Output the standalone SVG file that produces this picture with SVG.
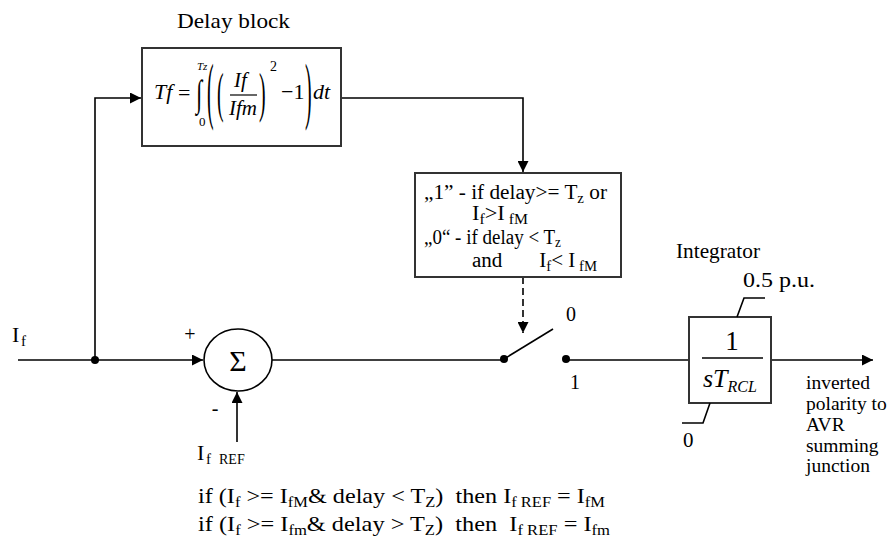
<svg xmlns="http://www.w3.org/2000/svg" width="890" height="537" viewBox="0 0 890 537">
<defs>
<marker id="ah" viewBox="0 0 10 10" refX="10" refY="5" markerWidth="11" markerHeight="11" markerUnits="userSpaceOnUse" orient="auto">
<path d="M0,0 L10,5 L0,10 Z" fill="#000"/>
</marker>
</defs>
<style>
text{font-family:"Liberation Serif","Times New Roman",serif;fill:#000}
.b{font-size:22px}
.bs{font-size:15px}
.c{font-size:20px}
.cs{font-size:14px}
.it{font-style:italic}
.ln{stroke:#000;stroke-width:1.6;fill:none}
.box{stroke:#333;stroke-width:2;fill:#fff}
</style>
<rect width="890" height="537" fill="#fff"/>
<g id="connectors">
<path class="ln" d="M18,360 H203" marker-end="url(#ah)"/>
<path class="ln" d="M95,360 V98 H141" marker-end="url(#ah)"/>
<path class="ln" d="M341,98 H523 V172" marker-end="url(#ah)"/>
<path class="ln" d="M523,277 V333" stroke-dasharray="7,4" marker-end="url(#ah)"/>
<path class="ln" d="M272,360 H504"/>
<path class="ln" d="M237,442 V392" marker-end="url(#ah)"/>
<path class="ln" d="M504,359 L553,329"/>
<path class="ln" d="M566,360 H689"/>
<path class="ln" d="M771,360 H873" marker-end="url(#ah)"/>
<circle cx="95" cy="360" r="4" fill="#000"/>
</g>
<g id="input">
<text class="b" x="12" y="342">I<tspan class="bs" x="21" y="346">f</tspan></text>
</g>
<g id="delay">
<text x="177" y="28" style="font-size:22px" textLength="113" lengthAdjust="spacingAndGlyphs">Delay block</text>
<rect class="box" x="142" y="48" width="199" height="98"/>
<text class="it" x="154" y="99" style="font-size:22px">Tf</text>
<text x="178" y="100" style="font-size:22px">=</text>
<text x="196" y="106" style="font-size:22px" transform="translate(196,106) scale(1,1.7) translate(-196,-106)">∫</text>
<text class="it" x="197" y="70" style="font-size:11px">Tz</text>
<text x="199" y="126" style="font-size:13px">0</text>
<text x="0" y="0" style="font-size:22px" transform="translate(207,115) scale(0.9,3.4)">(</text>
<text x="0" y="0" style="font-size:22px" transform="translate(217,111) scale(0.9,2.5)">(</text>
<text class="it" x="234" y="87" style="font-size:21px">If</text>
<line x1="230" y1="95" x2="257" y2="95" stroke="#000" stroke-width="1.2"/>
<text class="it" x="229" y="115" style="font-size:21px">Ifm</text>
<text x="0" y="0" style="font-size:22px" transform="translate(259,111) scale(0.9,2.5)">)</text>
<text x="270" y="71" style="font-size:14px">2</text>
<text x="281" y="99" style="font-size:22px">−1</text>
<text x="0" y="0" style="font-size:22px" transform="translate(305,115) scale(0.9,3.4)">)</text>
<text class="it" x="313" y="99" style="font-size:22px">dt</text>
</g>
<g id="condition">
<rect class="box" x="415" y="173" width="206" height="104"/>
<text class="c" x="424" y="199" xml:space="preserve" textLength="183" lengthAdjust="spacingAndGlyphs">„1” - if delay&gt;= T<tspan class="cs" dy="4">z</tspan><tspan dy="-4"> or</tspan></text>
<text class="c" x="472" y="220" xml:space="preserve" textLength="56" lengthAdjust="spacingAndGlyphs">I<tspan class="cs" dy="4">f</tspan><tspan dy="-4">&gt;I</tspan><tspan class="cs" dy="4"> fM</tspan></text>
<text class="c" x="424" y="244" xml:space="preserve" textLength="137" lengthAdjust="spacingAndGlyphs">„0“ - if delay &lt; T<tspan class="cs" dy="3">z</tspan></text>
<text class="c" x="472" y="267" xml:space="preserve" textLength="125" lengthAdjust="spacingAndGlyphs">and       I<tspan class="cs" dy="4">f</tspan><tspan dy="-4">&lt; I</tspan><tspan class="cs" dy="4"> fM</tspan></text>
</g>
<g id="sum">
<ellipse cx="238" cy="360" rx="34" ry="31" fill="#fff" stroke="#000" stroke-width="1.6"/>
<text x="238" y="371" text-anchor="middle" style="font-size:30px">Σ</text>
<text x="190" y="341" text-anchor="middle" style="font-size:20px">+</text>
<text x="215" y="415" text-anchor="middle" style="font-size:20px">-</text>
<text class="b" x="197" y="460">I<tspan class="bs" x="206" y="464">f</tspan><tspan style="font-size:14px" x="219" y="464">REF</tspan></text>
</g>
<g id="switch">
<circle cx="504" cy="359" r="4" fill="#000"/>
<circle cx="566" cy="359" r="4" fill="#000"/>
<text x="566" y="321" style="font-size:20px">0</text>
<text x="570" y="389" style="font-size:20px">1</text>
</g>
<g id="integrator">
<text x="676" y="258" style="font-size:21px" textLength="84" lengthAdjust="spacingAndGlyphs">Integrator</text>
<text x="743" y="287" style="font-size:21px" textLength="72" lengthAdjust="spacingAndGlyphs">0.5 p.u.</text>
<rect class="box" x="689" y="317" width="82" height="86"/>
<path class="ln" d="M737,317 L744,298 H765"/>
<path class="ln" d="M710,403 L703,423 H682"/>
<text x="732" y="350" text-anchor="middle" style="font-size:27px">1</text>
<line x1="702" y1="358" x2="763" y2="358" stroke="#000" stroke-width="1.4"/>
<text class="it" x="703" y="387" style="font-size:26px">sT<tspan dy="5" style="font-size:16px">RCL</tspan></text>
<text x="683" y="447" style="font-size:21px">0</text>
</g>
<g id="output">
<text x="806" y="389" style="font-size:19.5px">inverted</text>
<text x="806" y="410" style="font-size:19.5px">polarity to</text>
<text x="806" y="431" style="font-size:19.5px">AVR</text>
<text x="806" y="452" style="font-size:19.5px">summing</text>
<text x="806" y="472" style="font-size:19.5px">junction</text>
</g>
<g id="notes">
<text class="b" x="198" y="503" xml:space="preserve" textLength="407" lengthAdjust="spacingAndGlyphs">if (I<tspan class="bs" dy="4">f</tspan><tspan dy="-4"> &gt;= I</tspan><tspan class="bs" dy="4">fM</tspan><tspan dy="-4">&amp; delay &lt; T</tspan><tspan class="bs" dy="4">Z</tspan><tspan dy="-4">)  then I</tspan><tspan class="bs" dy="4">f REF</tspan><tspan dy="-4"> = I</tspan><tspan class="bs" dy="4">fM</tspan></text>
<text class="b" x="198" y="531" xml:space="preserve" textLength="412" lengthAdjust="spacingAndGlyphs">if (I<tspan class="bs" dy="4">f</tspan><tspan dy="-4"> &gt;= I</tspan><tspan class="bs" dy="4">fm</tspan><tspan dy="-4">&amp; delay &gt; T</tspan><tspan class="bs" dy="4">Z</tspan><tspan dy="-4">)  then  I</tspan><tspan class="bs" dy="4">f REF</tspan><tspan dy="-4"> = I</tspan><tspan class="bs" dy="4">fm</tspan></text>
</g>
</svg>
